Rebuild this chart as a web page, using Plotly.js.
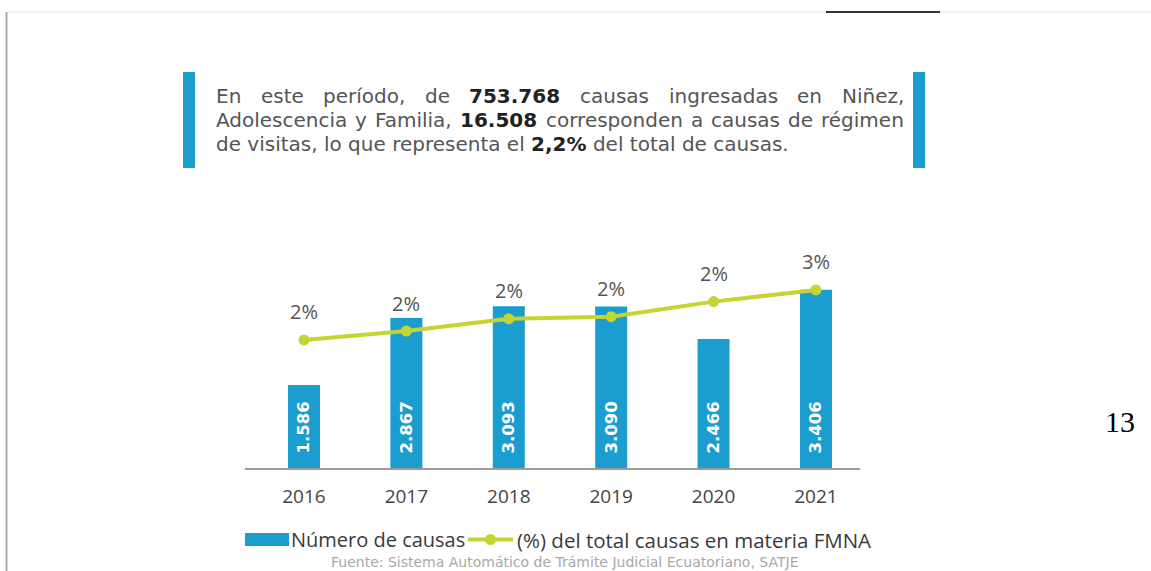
<!DOCTYPE html>
<html>
<head>
<meta charset="utf-8">
<script src="https://cdn.plot.ly/plotly-3.0.1.min.js"></script>
<style>
html,body{margin:0;padding:0;background:#fff;}
#chart{width:1151px;height:571px;}
</style>
</head>
<body>
<div id="chart"></div>
<script>
// ---- data ----
const years = ['2016', '2017', '2018', '2019', '2020', '2021'];
const numeroCausas = [1586, 2867, 3093, 3090, 2466, 3406];
const pctTotalFMNA = [1.87, 2.00, 2.18, 2.21, 2.43, 2.60];

const seriesBarName = 'Número de causas';
const seriesLineName = '(%) del total causas en materia FMNA';

const introLine1 = [['En',0],['este',0],['período,',0],['de',0],['753.768',1],['causas',0],['ingresadas',0],['en',0],['Niñez,',0]];
const introLine2 = [['Adolescencia',0],['y',0],['Familia,',0],['16.508',1],['corresponden',0],['a',0],['causas',0],['de',0],['régimen',0]];
const introLine3 = [['de visitas, lo que representa el ',0],['2,2%',1],[' del total de causas.',0]];
const sourceText = 'Fuente: Sistema Automático de Trámite Judicial Ecuatoriano, SATJE';
const pageNumber = '13';

// ---- layout helpers ----
const W = 1151, H = 571;
const L = 245, R = 860, T = 250, B = 468;
const px = x => (x - L) / (R - L);
const py = y => (B - y) / (B - T);

const BLUE = '#1b9dd0';
const GREEN = '#c5d431';
const TXT = '#555555';
const FONT = 'Open Sans';
const BODY_FONT = 'DejaVu Sans';

const canvas = document.createElement('canvas');
const ctx = canvas.getContext('2d');
function measure(t, bold, size) {
  ctx.font = (bold ? '700 ' : '400 ') + size + 'px "' + BODY_FONT + '"';
  return ctx.measureText(t).width;
}
// body size chosen so that the last (unjustified) line ends where it does on the page
const line3W19 = introLine3.reduce((a, w) => a + measure(w[0], w[1], 19), 0);
const BODY_SIZE = Math.min(20, Math.max(17, 19 * (790 - 215) / line3W19));

const annotations = [];
function justify(words, yPix, x0, x1) {
  const widths = words.map(w => measure(w[0], w[1], BODY_SIZE));
  const total = widths.reduce((a, b) => a + b, 0);
  const gap = (x1 - x0 - total) / (words.length - 1);
  let x = x0;
  words.forEach((w, i) => {
    annotations.push({
      xref: 'paper', yref: 'paper', x: px(x), y: py(yPix),
      xanchor: 'left', yanchor: 'middle', showarrow: false, borderpad: 0,
      text: w[1] ? '<b>' + w[0] + '</b>' : w[0],
      font: {family: BODY_FONT, size: BODY_SIZE, color: w[1] ? '#222' : TXT}
    });
    x += widths[i] + gap;
  });
}
justify(introLine1, 96, 215, 903);
justify(introLine2, 120, 215, 903);
annotations.push({
  xref: 'paper', yref: 'paper', x: px(215), y: py(144),
  xanchor: 'left', yanchor: 'middle', showarrow: false, borderpad: 0,
  text: introLine3.map(w => w[1] ? '<b style="color:#222">' + w[0] + '</b>' : w[0]).join(''),
  font: {family: BODY_FONT, size: BODY_SIZE, color: TXT}
});

// percent labels over line points (x given as category index)
years.forEach((yr, i) => {
  annotations.push({
    xref: 'x', yref: 'y2', x: i, y: pctTotalFMNA[i],
    text: Math.round(pctTotalFMNA[i]) + '%', showarrow: false,
    yshift: 28, font: {family: FONT, size: 20, color: '#555'}
  });
});

// legend texts
const LEG_Y = 539.5;
annotations.push({
  xref: 'paper', yref: 'paper', x: px(290), y: py(LEG_Y), xanchor: 'left', yanchor: 'middle',
  showarrow: false, borderpad: 0, text: seriesBarName,
  font: {family: FONT, size: 20, color: '#3a3a3a'}
});
annotations.push({
  xref: 'paper', yref: 'paper', x: px(516), y: py(LEG_Y), xanchor: 'left', yanchor: 'middle',
  showarrow: false, borderpad: 0, text: seriesLineName,
  font: {family: FONT, size: 20.5, color: '#3a3a3a'}
});
// source
annotations.push({
  xref: 'paper', yref: 'paper', x: px(565), y: py(571), xanchor: 'center', yanchor: 'bottom',
  showarrow: false, borderpad: 0, text: sourceText,
  font: {family: 'DejaVu Sans', size: 14, color: '#a8a8a8'}
});
// page number
annotations.push({
  xref: 'paper', yref: 'paper', x: px(1120), y: py(421), xanchor: 'center', yanchor: 'middle',
  showarrow: false, borderpad: 0, text: pageNumber,
  font: {family: 'Liberation Serif', size: 30, color: '#000'}
});

const shapes = [
  // page edges
  {type: 'line', xref: 'paper', yref: 'paper', x0: px(8), x1: px(1151), y0: py(12), y1: py(12), line: {color: '#ececec', width: 1.5}},
  {type: 'line', xref: 'paper', yref: 'paper', x0: px(6.5), x1: px(6.5), y0: py(12), y1: py(571), line: {color: '#a9a9a9', width: 2}},
  {type: 'line', xref: 'paper', yref: 'paper', x0: px(826), x1: px(940), y0: py(12), y1: py(12), line: {color: '#333', width: 2}},
  // side bars of the intro box
  {type: 'rect', xref: 'paper', yref: 'paper', x0: px(183), x1: px(195), y0: py(72), y1: py(168), fillcolor: BLUE, line: {width: 0}},
  {type: 'rect', xref: 'paper', yref: 'paper', x0: px(913), x1: px(925), y0: py(72), y1: py(168), fillcolor: BLUE, line: {width: 0}},
  // legend symbols
  {type: 'rect', xref: 'paper', yref: 'paper', x0: px(245), x1: px(289), y0: py(LEG_Y - 6.5), y1: py(LEG_Y + 6.5), fillcolor: BLUE, line: {width: 0}},
  {type: 'line', xref: 'paper', yref: 'paper', x0: px(468), x1: px(513), y0: py(LEG_Y), y1: py(LEG_Y), line: {color: GREEN, width: 4}},
  {type: 'circle', xref: 'paper', yref: 'paper', x0: px(485), x1: px(496), y0: py(LEG_Y - 5.5), y1: py(LEG_Y + 5.5), fillcolor: GREEN, line: {width: 0}}
];

const traces = [
  {
    type: 'bar', name: seriesBarName, x: years, y: numeroCausas,
    marker: {color: BLUE}, width: 0.3125,
    texttemplate: '\u00a0\u00a0%{y:,}', textposition: 'inside', insidetextanchor: 'start',
    textangle: -90, cliponaxis: false,
    insidetextfont: {family: 'DejaVu Sans', size: 16.5, color: '#ffffff', weight: 700},
    hoverinfo: 'skip'
  },
  {
    type: 'scatter', mode: 'lines+markers', name: seriesLineName, x: years, y: pctTotalFMNA,
    yaxis: 'y2', line: {color: GREEN, width: 4}, marker: {color: GREEN, size: 11},
    cliponaxis: false, hoverinfo: 'skip'
  }
];

const layout = {
  width: W, height: H,
  margin: {l: L, r: W - R, t: T, b: H - B, pad: 0},
  paper_bgcolor: '#ffffff', plot_bgcolor: '#ffffff',
  separators: ',.',
  showlegend: false,
  font: {family: FONT, color: '#444'},
  xaxis: {
    type: 'category', range: [-0.576, 5.43], showline: true, linecolor: '#9b9b9b', linewidth: 2,
    ticks: '', showgrid: false, zeroline: false, fixedrange: true,
    tickfont: {family: FONT, size: 19, color: '#444'}, ticklabelstandoff: 10
  },
  yaxis: {range: [0, 4168], visible: false, showgrid: false, zeroline: false, fixedrange: true},
  yaxis2: {range: [0, 3.184], overlaying: 'y', visible: false, showgrid: false, zeroline: false, fixedrange: true},
  annotations: annotations,
  shapes: shapes
};

Plotly.newPlot('chart', traces, layout, {staticPlot: true, displayModeBar: false});
</script>
</body>
</html>
